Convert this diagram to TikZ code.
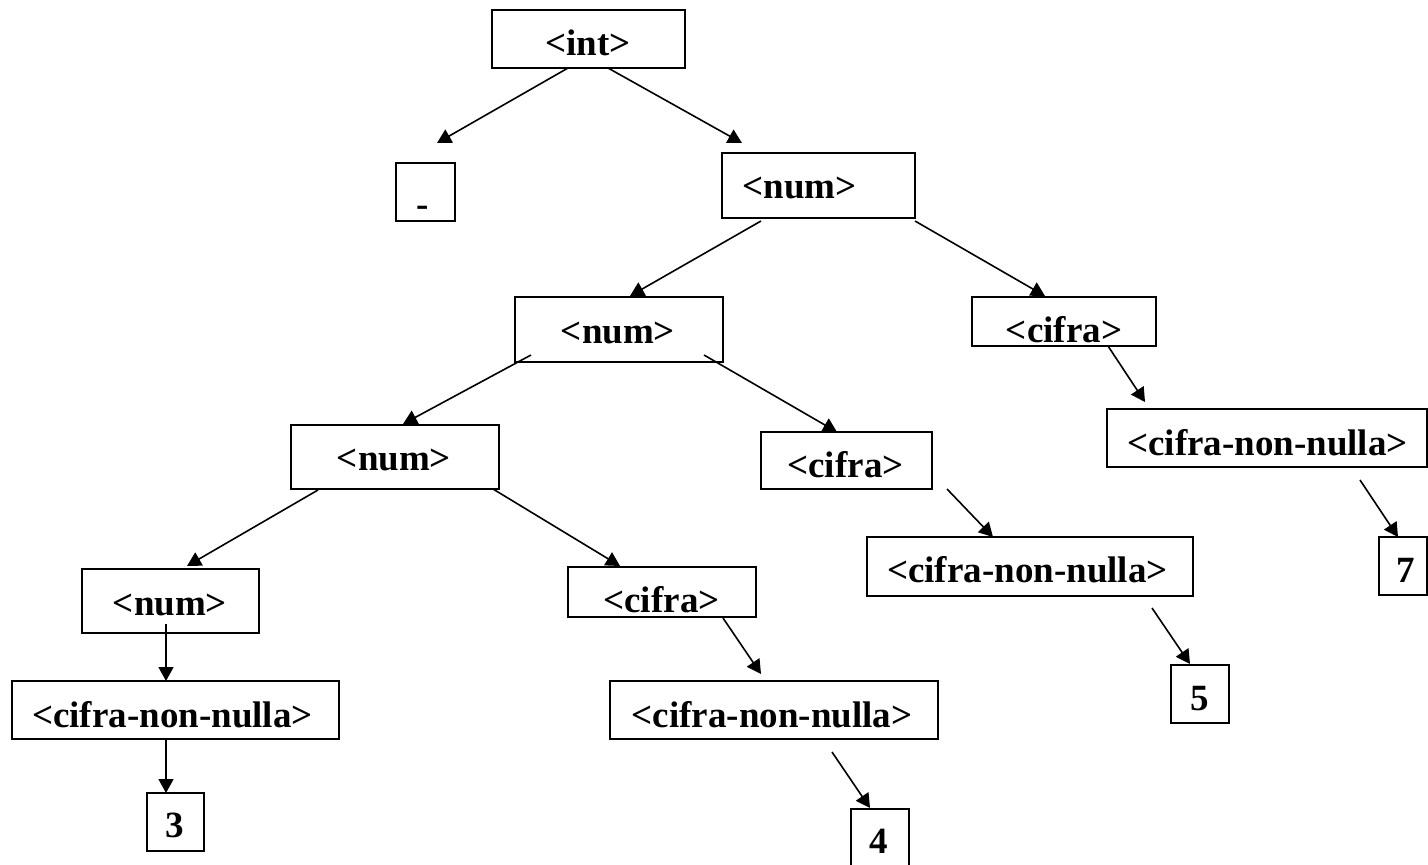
\documentclass[tikz,border=0pt]{standalone}
\usepackage{fontspec}
\setmainfont{Liberation Serif}
\usetikzlibrary{arrows.meta,calc}
\begin{document}
\begin{tikzpicture}[x=1pt,y=-1pt,
  box/.style={draw=black,line width=2pt,rectangle,inner sep=0pt,outer sep=0pt},
  lbl/.style={inner sep=0pt,anchor=base,font=\fontsize{37}{40}\selectfont\bfseries},
  arr/.style={line width=1.6pt,-{Triangle[length=14pt,width=15pt]}}]
\fill[white] (0,0) rectangle (1428,865);
\useasboundingbox (0,0) rectangle (1428,865);
% boxes
\node[box,minimum width=193pt,minimum height=58pt] (int) at (588.5,39) {};
\node[box,minimum width=59pt,minimum height=58pt] (minus) at (425.5,192) {};
\node[box,minimum width=193pt,minimum height=65pt] (num1) at (818.5,185.5) {};
\node[box,minimum width=208pt,minimum height=65pt] (num2) at (619,329.5) {};
\node[box,minimum width=184pt,minimum height=49pt] (cifra1) at (1064,321.5) {};
\node[box,minimum width=208pt,minimum height=64pt] (num3) at (395,457) {};
\node[box,minimum width=171pt,minimum height=57pt] (cifra2) at (846.5,460.5) {};
\node[box,minimum width=320pt,minimum height=58pt] (cnnR) at (1267,438) {};
\node[box,minimum width=177pt,minimum height=64pt] (num4) at (170.5,601) {};
\node[box,minimum width=188pt,minimum height=50pt] (cifra3) at (662,592) {};
\node[box,minimum width=326pt,minimum height=59pt] (cnnM) at (1030,566.5) {};
\node[box,minimum width=48pt,minimum height=58pt] (seven) at (1403,566) {};
\node[box,minimum width=327pt,minimum height=58pt] (cnnL) at (175.5,710) {};
\node[box,minimum width=328pt,minimum height=58pt] (cnnLM) at (774,710) {};
\node[box,minimum width=58pt,minimum height=58pt] (five) at (1200,694) {};
\node[box,minimum width=57pt,minimum height=58pt] (three) at (175.5,822) {};
\node[box,minimum width=58pt,minimum height=58pt] (four) at (880,838) {};
% labels
\node[lbl] (intT) at (588,55) {<int>};
\node[lbl] (minusT) at (423,216) {-};
\node[lbl] (num1T) at (799.5,198) {<num>};
\node[lbl] (num2T) at (618,343) {<num>};
\node[lbl] (cifra1T) at (1064,342) {<cifra>};
\node[lbl] (num3T) at (394,470) {<num>};
\node[lbl] (cifra2T) at (845.5,477) {<cifra>};
\node[lbl] (cnnRT) at (1267.5,455) {<cifra-non-nulla>};
\node[lbl] (num4T) at (170,615) {<num>};
\node[lbl] (cifra3T) at (661.5,612) {<cifra>};
\node[lbl] (cnnMT) at (1027.5,582) {<cifra-non-nulla>};
\node[lbl] (sevenT) at (1406,582) {7};
\node[lbl] (cnnLT) at (172.5,727) {<cifra-non-nulla>};
\node[lbl] (cnnLMT) at (772,727) {<cifra-non-nulla>};
\node[lbl] (fiveT) at (1200,710) {5};
\node[lbl] (threeT) at (174.5,837) {3};
\node[lbl] (fourT) at (879,853) {4};
% connectors
\draw[arr] ($(int)+(-20.5,29)$) -- ($(minus)+(11.5,-49)$);
\draw[arr] ($(int)+(19.5,29)$) -- ($(num1)+(-76.5,-42.5)$);
\draw[arr] ($(num1)+(-57.5,35.5)$) -- ($(num2)+(11,-33.5)$);
\draw[arr] ($(num1)+(96.5,35.5)$) -- ($(cifra1)+(-19,-25.5)$);
\draw[arr] ($(num2)+(-88,25.5)$) -- ($(num3)+(8,-33)$);
\draw[arr] ($(num2)+(85,25.5)$) -- ($(cifra2)+(-9.5,-28.5)$);
\draw[arr] ($(cifra1)+(44,24.5)$) -- ($(cnnR)+(-122,-36)$);
\draw[arr] ($(num3)+(-77,33)$) -- ($(num4)+(16.5,-35)$);
\draw[arr] ($(num3)+(98,32)$) -- ($(cifra3)+(-42,-26)$);
\draw[arr] ($(cifra2)+(100.5,28.5)$) -- ($(cnnM)+(-37,-29.5)$);
\draw[arr] ($(cifra3)+(61,26)$) -- ($(cnnLM)+(-13,-36)$);
\draw[arr] ($(cnnR)+(93,42)$) -- ($(seven)+(-5,-29)$);
\draw[arr] ($(cnnM)+(122,41.5)$) -- ($(five)+(-10,-30)$);
\draw[arr] ($(num4)+(-4.5,23)$) -- ($(cnnL)+(-9.5,-29)$);
\draw[arr] ($(cnnL)+(-9.5,29)$) -- ($(three)+(-9.5,-29)$);
\draw[arr] ($(cnnLM)+(58,42)$) -- ($(four)+(-10,-30)$);
\end{tikzpicture}
\end{document}
